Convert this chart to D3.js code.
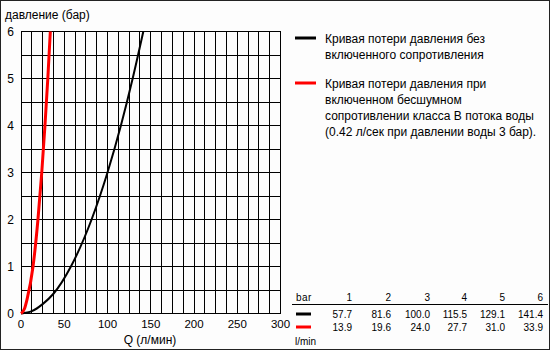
<!DOCTYPE html>
<html>
<head>
<meta charset="utf-8">
<script src="https://cdn.jsdelivr.net/npm/d3@7"></script>
<style>
  body { margin: 0; background: #fff; }
  svg { display: block; font-family: "Liberation Sans", Arial, sans-serif; }
</style>
</head>
<body>
<svg id="chart" width="550" height="350"></svg>
<script>
// table values (bar -> l/min)
var pressures = [1, 2, 3, 4, 5, 6];
var flowPlain = [57.7, 81.6, 100.0, 115.5, 129.1, 141.4];
var flowSilent = [13.9, 19.6, 24.0, 27.7, 31.0, 33.9];

var plainLow = [[0, 0], [12.5, 0.05], [25, 0.2], [37.5, 0.42]];
var silentLow = [[0, 0], [4, 0.1], [7, 0.3]];

var xTicks = [0, 50, 100, 150, 200, 250, 300];
var yTicks = [0, 1, 2, 3, 4, 5, 6];

var legendTexts = [
    ["Кривая потери давления без", "включенного сопротивления"],
    ["Кривая потери давления при", "включенном бесшумном", "сопротивлении класса В потока воды", "(0.42 л/сек при давлении воды 3 бар)."]
];
var colors = ["#000", "#f00"];

var svg = d3.select("#chart");
var padL = 21, padR = 280.5, padT = 31.5, padB = 313.5;

var x = d3.scaleLinear().domain([0, 300]).range([padL, padR]);
var y = d3.scaleLinear().domain([0, 6]).range([padB, padT]);

svg.append("rect")
    .attr("x", 0.5).attr("y", 0.5).attr("width", 549).attr("height", 349)
    .attr("fill", "#fdfdfd").attr("stroke", "#222");

// grid
var grid = svg.append("g").attr("stroke", "#000").attr("stroke-width", 1).attr("shape-rendering", "crispEdges");
grid.selectAll("line.v")
    .data(d3.range(0, 300.1, 12.5))
    .enter().append("line").attr("class", "v")
    .attr("x1", function(d) { return x(d); }).attr("x2", function(d) { return x(d); })
    .attr("y1", padT).attr("y2", padB);
grid.selectAll("line.h")
    .data(d3.range(0, 6.01, 0.5))
    .enter().append("line").attr("class", "h")
    .attr("x1", padL).attr("x2", padR)
    .attr("y1", function(d) { return y(d); }).attr("y2", function(d) { return y(d); });

// tick labels
svg.append("g").selectAll("text")
    .data(yTicks)
    .enter().append("text")
    .attr("x", 14).attr("y", function(d) { return y(d) + 4; })
    .attr("text-anchor", "end").attr("font-size", 12)
    .text(function(d) { return d; });

svg.append("g").selectAll("text")
    .data(xTicks)
    .enter().append("text")
    .attr("x", function(d) { return x(d); }).attr("y", 328)
    .attr("text-anchor", "middle").attr("font-size", 11.5)
    .text(function(d) { return d; });

svg.append("text").attr("x", 5).attr("y", 19).attr("font-size", 12).text("давление (бар)");
svg.append("text").attr("x", 150).attr("y", 344).attr("text-anchor", "middle").attr("font-size", 12).text("Q (л/мин)");

// curves
var line = d3.line()
    .x(function(d) { return x(d[0]); })
    .y(function(d) { return y(d[1]); })
    .curve(d3.curveMonotoneX);

var plainPts = plainLow.concat(pressures.map(function(p, i) { return [flowPlain[i], p]; }));
var silentPts = silentLow.concat(pressures.map(function(p, i) { return [flowSilent[i], p]; }));

svg.append("path").datum(plainPts)
    .attr("d", line).attr("fill", "none").attr("stroke", colors[0]).attr("stroke-width", 2);
svg.append("path").datum(silentPts)
    .attr("d", line).attr("fill", "none").attr("stroke", colors[1]).attr("stroke-width", 3);

// legend
var legY = [38, 83];
legendTexts.forEach(function(lines, i) {
    svg.append("line")
        .attr("x1", 295).attr("x2", 316).attr("y1", legY[i]).attr("y2", legY[i])
        .attr("stroke", colors[i]).attr("stroke-width", 3);
    lines.forEach(function(t, j) {
        svg.append("text")
            .attr("x", 325).attr("y", legY[i] + 5 + j * 16)
            .attr("font-size", 12)
            .text(t);
    });
});

// table
var colX = [352, 391, 430, 467, 505, 543];
var tbl = svg.append("g").attr("font-size", 10);
tbl.append("text").attr("x", 296).attr("y", 301).attr("letter-spacing", 0.5).text("bar");
tbl.append("line").attr("x1", 292).attr("x2", 548).attr("y1", 304.5).attr("y2", 304.5)
    .attr("stroke", "#000").attr("shape-rendering", "crispEdges");
tbl.selectAll("text.h").data(pressures).enter().append("text").attr("class", "h")
    .attr("x", function(d, i) { return colX[i]; }).attr("y", 301)
    .attr("text-anchor", "end").text(function(d) { return d; });
tbl.selectAll("text.a").data(flowPlain).enter().append("text").attr("class", "a")
    .attr("x", function(d, i) { return colX[i]; }).attr("y", 318)
    .attr("text-anchor", "end").text(function(d) { return d.toFixed(1); });
tbl.selectAll("text.b").data(flowSilent).enter().append("text").attr("class", "b")
    .attr("x", function(d, i) { return colX[i]; }).attr("y", 331)
    .attr("text-anchor", "end").text(function(d) { return d.toFixed(1); });
tbl.append("line").attr("x1", 296).attr("x2", 311).attr("y1", 314).attr("y2", 314)
    .attr("stroke", colors[0]).attr("stroke-width", 3);
tbl.append("line").attr("x1", 296).attr("x2", 311).attr("y1", 327).attr("y2", 327)
    .attr("stroke", colors[1]).attr("stroke-width", 3);
tbl.append("text").attr("x", 295).attr("y", 345).text("l/min");
</script>
</body>
</html>
